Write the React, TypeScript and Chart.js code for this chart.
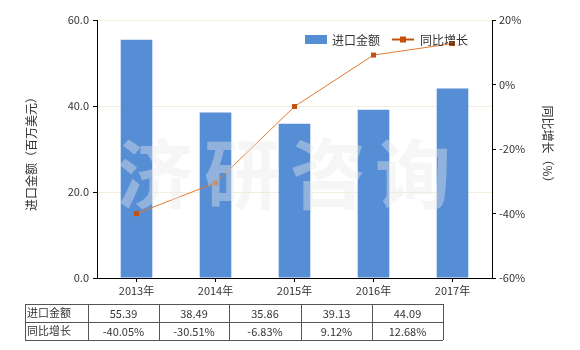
import React, { useEffect, useRef } from "react";
import { Chart, registerables } from "chart.js";

Chart.register(...registerables);

const categories = ["2013年", "2014年", "2015年", "2016年", "2017年"];
const importValues = [55.39, 38.49, 35.86, 39.13, 44.09];
const growthValues = [-40.05, -30.51, -6.83, 9.12, 12.68];
const importLabels = ["55.39", "38.49", "35.86", "39.13", "44.09"];
const growthLabels = ["-40.05%", "-30.51%", "-6.83%", "9.12%", "12.68%"];
const seriesNames = ["进口金额", "同比增长"];
const leftTitle = "进口金额（百万美元）";
const rightTitle = "同比增长（%）";
const watermark = ["济", "研", "咨", "询"];

const BAR_COLOR = "#558ed5";
const LINE_COLOR = "#e3782f";
const MARKER_COLOR = "#c4500c";
const FONT = '"Noto Sans CJK SC", "DejaVu Sans", sans-serif';
const TEXT = "#333333";

const overlay = {
  id: "overlay",
  afterDraw(chart: any) {
    const ctx = chart.ctx;
    ctx.save();
    // legend
    ctx.fillStyle = BAR_COLOR;
    ctx.fillRect(305, 35, 22, 9);
    ctx.fillStyle = TEXT;
    ctx.font = `12px ${FONT}`;
    ctx.textBaseline = "middle";
    ctx.textAlign = "left";
    ctx.fillText(seriesNames[0], 332, 40);
    ctx.strokeStyle = MARKER_COLOR;
    ctx.lineWidth = 2;
    ctx.beginPath();
    ctx.moveTo(392, 39.5);
    ctx.lineTo(414, 39.5);
    ctx.stroke();
    ctx.fillStyle = MARKER_COLOR;
    ctx.fillRect(400, 36.5, 6, 6);
    ctx.fillStyle = TEXT;
    ctx.fillText(seriesNames[1], 420, 40);

    // axis titles
    ctx.save();
    ctx.translate(31, 151);
    ctx.rotate(-Math.PI / 2);
    ctx.textAlign = "center";
    ctx.fillText(leftTitle, 0, 0);
    ctx.restore();
    ctx.save();
    ctx.translate(548, 147);
    ctx.rotate(Math.PI / 2);
    ctx.textAlign = "center";
    ctx.fillText(rightTitle, 0, 0);
    ctx.restore();

    // table
    const xs = [25, 88, 159, 229, 301, 372, 443];
    const ys = [304, 322, 340];
    ctx.strokeStyle = "#555555";
    ctx.lineWidth = 1;
    ctx.beginPath();
    ys.forEach((y) => {
      ctx.moveTo(xs[0], y + 0.5);
      ctx.lineTo(xs[xs.length - 1], y + 0.5);
    });
    xs.forEach((x) => {
      ctx.moveTo(x + 0.5, ys[0]);
      ctx.lineTo(x + 0.5, ys[ys.length - 1]);
    });
    ctx.stroke();
    ctx.fillStyle = TEXT;
    ctx.font = `11px ${FONT}`;
    ctx.textAlign = "left";
    ctx.fillText(seriesNames[0], 27, 313);
    ctx.fillText(seriesNames[1], 27, 331);
    ctx.textAlign = "center";
    for (let i = 0; i < categories.length; i++) {
      const cx = (xs[i + 1] + xs[i + 2]) / 2;
      ctx.fillText(importLabels[i], cx, 314);
      ctx.fillText(growthLabels[i], cx, 332);
    }

    // watermark
    ctx.fillStyle = "rgba(233,233,233,0.4)";
    ctx.font = `bold 76px ${FONT}`;
    ctx.textAlign = "center";
    const wx = [155, 242, 328, 413];
    watermark.forEach((ch, i) => ctx.fillText(ch, wx[i], 174));
    ctx.restore();
  },
};

export default function App() {
  const ref = useRef<HTMLCanvasElement>(null);
  useEffect(() => {
    const chart = new Chart(ref.current as HTMLCanvasElement, {
      type: "bar",
      data: {
        labels: categories,
        datasets: [
          {
            type: "line",
            label: seriesNames[1],
            data: growthValues,
            yAxisID: "y1",
            borderColor: LINE_COLOR,
            borderWidth: 1,
            backgroundColor: MARKER_COLOR,
            pointBackgroundColor: MARKER_COLOR,
            pointBorderColor: MARKER_COLOR,
            pointStyle: "rect",
            pointRadius: 3.5,
            pointBorderWidth: 0,
            tension: 0,
            order: 0,
          } as any,
          {
            type: "bar",
            label: seriesNames[0],
            data: importValues,
            yAxisID: "y",
            backgroundColor: BAR_COLOR,
            barPercentage: 0.4,
            categoryPercentage: 1,
            order: 1,
          },
        ],
      },
      options: {
        animation: false,
        responsive: false,
        maintainAspectRatio: false,
        layout: { padding: { top: 20, left: 0, right: 0, bottom: 0 } },
        plugins: { legend: { display: false }, tooltip: { enabled: false } },
        scales: {
          x: {
            offset: true,
            grid: { display: true, drawOnChartArea: false, offset: false, tickLength: 4, tickColor: "#000" },
            border: { color: "#000", width: 1 },
            ticks: { color: TEXT, font: { family: FONT, size: 11 }, padding: 2 },
            afterFit: (s: any) => { s.height = 72; },
          },
          y: {
            position: "left",
            min: 0,
            max: 60,
            ticks: {
              stepSize: 20,
              color: TEXT,
              font: { family: FONT, size: 11 },
              padding: 4,
              callback: (v: any) => Number(v).toFixed(1),
            },
            grid: { color: "#f0f0dc", tickColor: "#000", tickLength: 4 },
            border: { color: "#000", width: 1 },
            afterFit: (s: any) => { s.width = 97; },
          },
          y1: {
            position: "right",
            min: -60,
            max: 20,
            ticks: {
              stepSize: 20,
              color: TEXT,
              font: { family: FONT, size: 11 },
              padding: 3,
              callback: (v: any) => `${v}%`,
            },
            grid: { drawOnChartArea: false, tickColor: "#000", tickLength: 4 },
            border: { color: "#000", width: 1 },
            afterFit: (s: any) => { s.width = 88; },
          },
        },
      },
      plugins: [overlay],
    });
    return () => chart.destroy();
  }, []);
  return (
    <div style={{ position: "absolute", left: 0, top: 0, width: 580, height: 350, background: "#fff" }}>
      <canvas ref={ref} width={580} height={350} style={{ width: 580, height: 350 }} />
    </div>
  );
}
